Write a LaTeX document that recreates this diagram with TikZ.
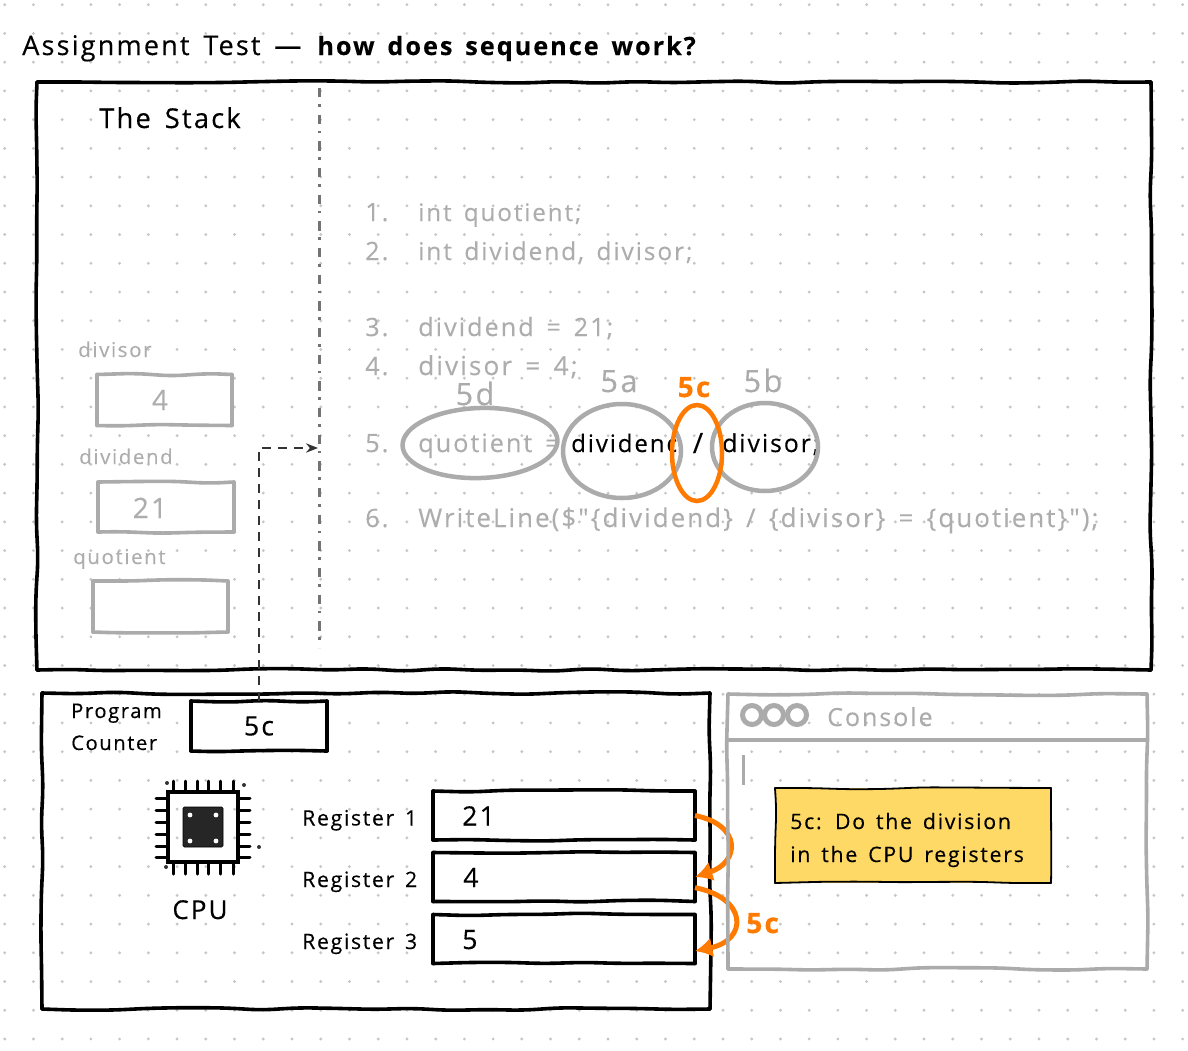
\documentclass[tikz,border=0pt]{standalone}
\usepackage{fontspec}
\usetikzlibrary{arrows.meta, decorations.pathmorphing, shapes.geometric}
\newfontfamily\handfont[LetterSpace=8,WordSpace=1.5,FakeBold=0.3]{Open Sans}
\def\px{0.75pt}
\definecolor{sketchgray}{HTML}{ABABAB}
\definecolor{codegray}{HTML}{ADADAD}
\definecolor{griddot}{HTML}{C6C6C6}
\definecolor{hiorange}{HTML}{FF7A00}
\definecolor{noteyellow}{HTML}{FFD966}
\tikzset{
    hand/.style={font=\handfont\fontsize{#1}{#1}\selectfont, inner sep=0pt, anchor=base west},
    hand/.default=18.9pt,
    sketchbox/.style={inner sep=0pt, outer sep=0pt},
    wobble/.style={line width=3.6*\px, line cap=round, decorate, rounded corners=9pt,
        decoration={random steps, segment length=28pt, amplitude=1.1pt}},
    grayring/.style={draw=sketchgray, ellipse, line width=4.5*\px, inner sep=0pt},
    orangearc/.style={draw=hiorange, line width=5*\px, -{Latex[length=13pt, width=15pt]}},
}
% four separate sides, so that the corners stay where they are
\newcommand{\sketchsides}[2][]{
    \draw[wobble, #1] (#2.north west) -- (#2.north east);
    \draw[wobble, #1] (#2.north east) -- (#2.south east);
    \draw[wobble, #1] (#2.south east) -- (#2.south west);
    \draw[wobble, #1] (#2.south west) -- (#2.north west);
}
\pgfmathsetseed{11}
\begin{document}
\begin{tikzpicture}[x=0.75pt, y=-0.75pt]
    \useasboundingbox (0,0) rectangle (1188,1050);
    % Dotted paper
    \foreach \i in {0,...,41} {
        \foreach \j in {0,...,36} {
            \fill[griddot] (4.7+28.73*\i, 4.7+28.73*\j) circle (1.6);
        }
    }

    % Title
    \node[hand=20.3pt] (title) at (22,55) {Assignment Test — {\fontsize{18.9pt}{18.9pt}\selectfont\textbf{how does sequence work?}}};

    % Memory frame with the stack
    \node[sketchbox, minimum width=1114*\px, minimum height=588*\px] (memory) at (594,376) {};
    \sketchsides{memory}
    \coordinate (dividetop) at (319,88);
    \coordinate (dividebot) at (319,648);
    \draw[line width=3*\px, black!55, dash pattern=on 7pt off 5pt on 2pt off 6pt] (dividetop) -- (dividebot);
    \node[hand=20.5pt] (stacktitle) at (99,128) {The Stack};

    \node[hand=15.3pt, text=codegray] (divisorlabel) at (78,357) {divisor};
    \node[sketchbox, fill=white, minimum width=135*\px, minimum height=51*\px] (divisorbox) at (164.5,400) {};
    \sketchsides[draw=sketchgray]{divisorbox}
    \node[hand=21pt, anchor=base, text=codegray] (divisorvalue) at (160,410) {4};
    \node[hand=15.3pt, text=codegray] (dividendlabel) at (79,464) {dividend};
    \node[sketchbox, fill=white, minimum width=136*\px, minimum height=50*\px] (dividendbox) at (166,507) {};
    \sketchsides[draw=sketchgray]{dividendbox}
    \node[hand=21pt, anchor=base, text=codegray] (dividendvalue) at (150,518) {21};
    \node[hand=15.3pt, text=codegray] (quotientlabel) at (73,564) {quotient};
    \node[sketchbox, fill=white, minimum width=135*\px, minimum height=51*\px] (quotientbox) at (160.5,606.5) {};
    \sketchsides[draw=sketchgray]{quotientbox}

    % Code
    \foreach \name/\num/\code/\y/\size in {
        lineone/1./{int quotient;}/221/18.1pt,
        linetwo/2./{int dividend, divisor;}/260/18.3pt,
        linethree/3./{dividend = 21;}/336/18.9pt,
        linefour/4./{divisor = 4;}/375/19.6pt,
        linesix/6./{WriteLine(\$"\{dividend\} / \{divisor\} = \{quotient\}");}/527/19.4pt} {
        \node[hand, text=codegray] (\name num) at (365,\y) {\num};
        \node[hand=\size, text=codegray] (\name) at (418,\y) {\code};
    }
    \node[hand, text=codegray] (linefivenum) at (365,452) {5.};
    \node[hand, text=codegray] (quotientvar) at (418,452) {quotient =};
    \begin{scope}
        \clip (560,420) rectangle (676,470);
        \node[hand=18pt] (dividendvar) at (571,452) {dividend};
    \end{scope}
    \node[hand=21pt, anchor=base] (slash) at (698,453) {/};
    \begin{scope}
        \clip (724,420) rectangle (830,470);
        \node[hand=18.5pt] (divisorvar) at (722,452) {divisor;};
    \end{scope}

    % Rings round the parts of line 5
    \node[grayring, minimum width=155*\px, minimum height=70*\px, rotate=2] (ringd) at (480,443) {};
    \node[grayring, minimum width=118*\px, minimum height=94*\px] (ringa) at (622,451) {};
    \node[grayring, minimum width=106*\px, minimum height=88*\px] (ringb) at (765,447) {};
    \node[grayring, draw=hiorange, minimum width=50*\px, minimum height=96*\px] (ringc) at (697,453) {};
    \node[hand=23pt, text=sketchgray, anchor=base] (labeld) at (475,405) {5d};
    \node[hand=23pt, text=sketchgray, anchor=base] (labela) at (619,392) {5a};
    \node[hand=21pt, text=hiorange, anchor=base, font=\handfont\bfseries\fontsize{21pt}{21pt}\selectfont] (labelc) at (694,397) {5c};
    \node[hand=23pt, text=sketchgray, anchor=base] (labelb) at (763,392) {5b};

    % CPU frame
    \node[sketchbox, minimum width=668*\px, minimum height=316*\px] (cpuframe) at (376,851) {};
    \sketchsides{cpuframe}
    \node[hand=15.1pt] (programlabel) at (71,718) {Program};
    \node[hand=15.1pt] (counterlabel) at (71,750) {Counter};
    \node[sketchbox, fill=white, minimum width=136*\px, minimum height=50*\px, font=\handfont\fontsize{20pt}{20pt}\selectfont] (pc) at (259,726) {5c};
    \sketchsides{pc}
    \coordinate (lineptr) at (318,448);
    \draw[line width=2.5*\px, black!80, dash pattern=on 7pt off 5pt, -{Stealth[length=9pt, width=7pt]}] (pc.north) |- (lineptr);

    % CPU icon
    \node[draw, line width=3.4*\px, minimum width=70*\px, minimum height=70*\px, inner sep=0pt] (cpu) at (203,827) {};
    \node[draw, fill=black!85, rounded corners=1pt, minimum width=40*\px, minimum height=40*\px, inner sep=0pt] (die) at (203,827) {};
    \foreach \x in {173,185,197,208,220,233} {
        \draw[line width=3*\px, line cap=round] (\x,781) -- (\x,792);
        \draw[line width=3*\px, line cap=round] (\x,862) -- (\x,874);
    }
    \foreach \y in {798,810,822,834,846,857} {
        \draw[line width=3*\px, line cap=round] (156,\y) -- (168,\y);
        \draw[line width=3*\px, line cap=round] (238,\y) -- (250,\y);
    }
    \foreach \x/\y in {190/815,216/815,190/841,216/841} {
        \fill[white] (\x,\y) circle (2.4);
    }
    \foreach \x/\y in {167/783,244/785,259/847,166/867} {
        \fill[black!80] (\x,\y) circle (2);
    }
    \node[hand=19.5pt, anchor=base] (cpulabel) at (200,919) {CPU};

    % Registers
    \foreach \name/\lab/\val/\y/\valx in {
        regone/Register 1/21/815.5/462,
        regtwo/Register 2/4/877/463,
        regthree/Register 3/5/939/462} {
        \node[hand=15.9pt] (\name label) at (302,\y+10) {\lab};
        \node[sketchbox, fill=white, minimum width=262*\px, minimum height=49*\px] (\name) at (564,\y) {};
        \sketchsides{\name}
        \node[hand=20pt] (\name value) at (\valx,\y+10) {\val};
    }
    \draw[orangearc] (regone.east) .. controls (742,825) and (740,862) .. (regtwo.east);
    \draw[orangearc] ([yshift=-8pt]regtwo.east) .. controls (748,898) and (748,940) .. ([yshift=-9pt]regthree.east);
    \node[hand=21pt, text=hiorange, font=\handfont\bfseries\fontsize{21pt}{21pt}\selectfont] (arclabel) at (746,933) {5c};

    % Console
    \node[sketchbox, minimum width=419*\px, minimum height=275*\px] (console) at (937.5,831.5) {};
    \sketchsides[draw=sketchgray]{console}
    \draw[draw=sketchgray, line width=3.4*\px] (console.north west |- 0,740) -- (console.north east |- 0,740);
    \foreach \name/\x in {dotone/752,dottwo/774,dotthree/797} {
        \node[draw=sketchgray, circle, line width=5*\px, minimum size=19*\px, inner sep=0pt] (\name) at (\x,715) {};
    }
    \node[hand=18.7pt, text=sketchgray] (consolelabel) at (827,726) {Console};
    \fill[sketchgray] (741.5,755) rectangle (745,785);
    \node[sketchbox, fill=noteyellow, minimum width=276*\px, minimum height=95*\px] (note) at (913,835.5) {};
    \sketchsides[line width=1.8*\px, draw=black]{note}
    \node[hand=16pt] (noteone) at (790,829) {5c: Do the division};
    \node[hand=16pt] (notetwo) at (790,862) {in the CPU registers};
\end{tikzpicture}
\end{document}
